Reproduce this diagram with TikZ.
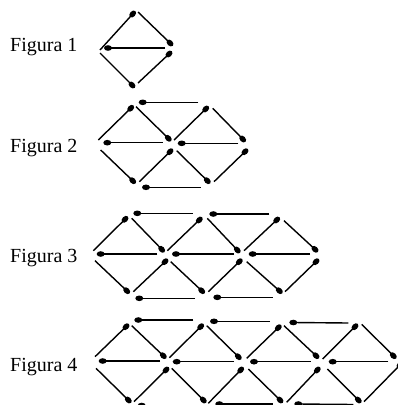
\documentclass[tikz,border=0pt]{standalone}
\usepackage{fontspec}
\setmainfont{Liberation Serif}
\usetikzlibrary{shapes.geometric}
\tikzset{
  matchline/.style={line width=1.4bp, black},
  matchhead/.style={ellipse, fill=black, inner sep=0pt, minimum width=8bp, minimum height=5.6bp, sloped, pos=1},
  figlabel/.style={anchor=base west, inner sep=0pt, font=\fontsize{20bp}{24bp}\selectfont}
}
\newcommand\mymatch[2]{\draw[matchline] #1 -- #2 node[matchhead]{};}
\begin{document}
\begin{tikzpicture}[x=1bp,y=-1bp]
\useasboundingbox (0,0) rectangle (398,405);
\clip (0,0) rectangle (398,405);
% labels
\node[figlabel] (f1) at (10,51.7) {Figura 1};
\node[figlabel] (f2) at (10,152.7) {Figura 2};
\node[figlabel] (f3) at (10,262.7) {Figura 3};
\node[figlabel] (f4) at (10,371.7) {Figura 4};
% Figure 1
\mymatch{(100,50)}{(132.7,14)}
\mymatch{(138,12)}{(170,43)}
\mymatch{(165,48)}{(108,48)}
\mymatch{(138,83)}{(169,54)}
\mymatch{(100,53)}{(132,85)}
% Figure 2
\mymatch{(198.3,102.3)}{(142.7,102.3)}
\mymatch{(98.3,140)}{(130.7,108.3)}
\mymatch{(136,106.7)}{(168.3,138.3)}
\mymatch{(174,140)}{(205.7,109)}
\mymatch{(212.7,108.3)}{(242.7,139)}
\mymatch{(162.7,142.7)}{(107.3,142.7)}
\mymatch{(238.3,143.3)}{(181.7,143.3)}
\mymatch{(100.7,150)}{(132.7,180.7)}
\mymatch{(139.3,181.7)}{(170,151.7)}
\mymatch{(176.7,150.7)}{(207.3,180.7)}
\mymatch{(214,181.7)}{(245,151.7)}
\mymatch{(200.7,187.3)}{(146,187.3)}
% Figure 3
\mymatch{(192.7,213.3)}{(137.3,213.3)}
\mymatch{(269.3,214)}{(213.3,214)}
\mymatch{(93.3,250.7)}{(125,219.3)}
\mymatch{(131.7,218.3)}{(161.7,249.3)}
\mymatch{(167.3,250.7)}{(199.3,220)}
\mymatch{(207.3,218.3)}{(237.3,250)}
\mymatch{(244,250.7)}{(276.7,220)}
\mymatch{(284,220.7)}{(315,249.3)}
\mymatch{(157.3,254)}{(100.7,254)}
\mymatch{(234,254)}{(176,254)}
\mymatch{(310,254)}{(252.7,254)}
\mymatch{(95,260.7)}{(126.7,290.7)}
\mymatch{(133.3,291.7)}{(165,261.7)}
\mymatch{(170.7,261.7)}{(201.7,290.7)}
\mymatch{(208.3,291.7)}{(239.3,261.7)}
\mymatch{(246.7,261.7)}{(279.3,290.7)}
\mymatch{(285,291.7)}{(316,261.7)}
\mymatch{(195,298.3)}{(139.3,298.3)}
\mymatch{(272.7,297.3)}{(217.3,297.3)}
% Figure 4
\mymatch{(193.3,320)}{(138.3,320)}
\mymatch{(270,321.3)}{(214,321.3)}
\mymatch{(348.3,323)}{(293.3,322.5)}
\mymatch{(95,356.7)}{(126,326.7)}
\mymatch{(131.7,325.7)}{(163.3,355.7)}
\mymatch{(169.3,357.7)}{(200.7,326.7)}
\mymatch{(206.7,325.7)}{(238.3,356.7)}
\mymatch{(246.7,358.3)}{(278.3,327.7)}
\mymatch{(284,325.7)}{(316,355.7)}
\mymatch{(322.7,359)}{(355,326.7)}
\mymatch{(361.7,324.3)}{(393.3,355.7)}
\mymatch{(160,361)}{(102.7,361)}
\mymatch{(234,361.7)}{(176.7,361.7)}
\mymatch{(310.7,361.7)}{(254,361.7)}
\mymatch{(388.3,361.7)}{(332.7,361.7)}
\mymatch{(96,368.3)}{(128.3,400)}
\mymatch{(134,401.7)}{(166,370)}
\mymatch{(171.7,368.3)}{(203.3,400)}
\mymatch{(208.3,403.3)}{(240.7,370)}
\mymatch{(248.3,369)}{(280,400)}
\mymatch{(286.7,402.3)}{(317.3,370)}
\mymatch{(327.3,369)}{(358.3,400)}
\mymatch{(364,401.7)}{(400,365)}
\mymatch{(196,405.5)}{(141.7,405.5)}
\mymatch{(272.7,404)}{(219.3,404)}
\mymatch{(353.3,404.5)}{(298.3,404)}
\end{tikzpicture}
\end{document}
